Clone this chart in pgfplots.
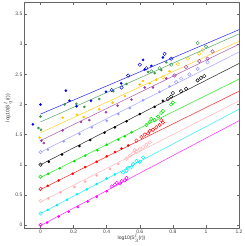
\documentclass[border=0pt]{standalone}
\usepackage{fontspec}
\setmainfont{Liberation Sans}
\usepackage{pgfplots}
\pgfplotsset{compat=1.18}
\definecolor{cBlue}{RGB}{0,0,235}
\definecolor{cDkg}{RGB}{60,150,80}
\definecolor{cGold}{RGB}{255,200,0}
\definecolor{cPur}{RGB}{160,60,160}
\definecolor{cLav}{RGB}{150,150,255}
\definecolor{cBlk}{RGB}{0,0,0}
\definecolor{cGrn}{RGB}{0,230,0}
\definecolor{cRed}{RGB}{255,0,0}
\definecolor{cPink}{RGB}{255,170,170}
\definecolor{cCyan}{RGB}{0,235,245}
\definecolor{cMag}{RGB}{255,0,255}
\pgfplotsset{
  ln/.style={color=#1, line width=0.55bp, opacity=0.8, no marks},
  fm/.style={only marks, mark=*, mark size=1.15bp, mark options={draw=#1, fill=#1, line width=0.3bp}},
  om/.style={only marks, mark=o, mark size=1.75bp, mark options={draw=#1, line width=0.45bp}},
}
\begin{document}
\begin{tikzpicture}
\useasboundingbox (0,0) rectangle (245bp,246bp);
\begin{axis}[
  at={(24bp,18bp)}, anchor=south west,
  width=215bp, height=226bp, scale only axis,
  xmin=-0.1, xmax=1.2, ymin=-0.05, ymax=3.7,
  xtick={0,0.2,0.4,0.6,0.8,1,1.2}, ytick={0,0.5,1,1.5,2,2.5,3,3.5},
  tick align=inside, xtick pos=both, ytick pos=both,
  major tick length=2.5bp,
  axis line style={black!60, line width=0.5bp},
  tick style={black!60, line width=0.4bp},
  ticklabel style={font=\fontsize{5}{6}\selectfont, text=black!75},
  xticklabel style={inner sep=1.5bp},
  yticklabel style={inner sep=1.5bp},
  /pgf/number format/assume math mode=true,
  xlabel={log10(S$_3^l$(r))}, ylabel={log10(S$_q^l$(r))},
  label style={font=\fontsize{5}{6}\selectfont, text=black!80},
  xlabel style={at={(axis description cs:0.5,-0.045)}, anchor=center},
  ylabel style={at={(axis description cs:-0.074,0.53)}, anchor=center},
]
% magenta
\addplot[ln=cMag] coordinates {(0,-0.01)(1.2,1.73)};
\addplot[fm=cMag] coordinates {(0.04,0.04)(0.11,0.14)(0.17,0.22)(0.225,0.30)(0.285,0.39)(0.34,0.47)(0.40,0.56)};
\addplot[om=cMag] coordinates {(0,0.0)(0.43,0.64)(0.45,0.67)(0.46,0.70)(0.48,0.69)(0.49,0.73)(0.51,0.74)(0.52,0.78)};
% cyan
\addplot[ln=cCyan] coordinates {(0,0.19)(1.2,1.92)};
\addplot[fm=cCyan] coordinates {(0.044,0.25)(0.10,0.33)(0.16,0.42)(0.22,0.51)(0.28,0.59)(0.34,0.68)(0.40,0.77)(0.45,0.84)};
\addplot[om=cCyan] coordinates {(0,0.19)(0.50,0.87)(0.52,0.90)(0.53,0.95)(0.55,0.96)(0.56,1.01)(0.58,1.06)(0.60,1.05)(0.62,1.12)};
% pink
\addplot[ln=cPink] coordinates {(0,0.38)(1.2,2.06)};
\addplot[fm=cPink] coordinates {(0.046,0.44)(0.12,0.54)(0.205,0.63)(0.27,0.72)(0.34,0.82)(0.42,0.93)(0.47,1.01)};
\addplot[om=cPink] coordinates {(0,0.40)(0.52,1.10)(0.54,1.15)(0.56,1.19)(0.58,1.22)(0.60,1.26)(0.62,1.29)(0.64,1.33)(0.66,1.37)(0.57,1.24)};
% red
\addplot[ln=cRed] coordinates {(0,0.59)(1.2,2.22)};
\addplot[fm=cRed] coordinates {(0.044,0.65)(0.11,0.74)(0.195,0.85)(0.27,0.96)(0.34,1.05)(0.40,1.14)(0.45,1.21)(0.49,1.27)(0.53,1.32)};
\addplot[om=cRed] coordinates {(0,0.60)(0.58,1.40)(0.61,1.46)(0.63,1.50)(0.65,1.52)(0.66,1.56)(0.68,1.58)(0.70,1.62)(0.72,1.66)(0.73,1.74)(0.74,1.70)};
% green
\addplot[ln=cGrn] coordinates {(0,0.79)(1.2,2.42)};
\addplot[fm=cGrn] coordinates {(0.046,0.85)(0.116,0.94)(0.205,1.06)(0.27,1.15)(0.345,1.24)(0.40,1.33)(0.47,1.42)(0.51,1.47)(0.55,1.54)};
\addplot[om=cGrn] coordinates {(0,0.80)(0.64,1.66)(0.66,1.71)(0.67,1.76)(0.69,1.74)(0.71,1.80)(0.73,1.86)(0.74,1.89)(0.79,2.00)(0.80,2.03)};
% black
\addplot[ln=cBlk] coordinates {(0,1.0)(1.2,2.68)};
\addplot[fm=cBlk] coordinates {(0.05,1.05)(0.13,1.17)(0.235,1.31)(0.30,1.41)(0.387,1.53)(0.45,1.62)(0.52,1.72)(0.60,1.84)(0.69,1.96)(0.74,2.06)};
\addplot[om=cBlk] coordinates {(0,1.0)(0.77,2.09)(0.79,2.13)(0.80,2.19)(0.85,2.22)(0.88,2.26)(0.95,2.40)(0.97,2.44)(0.99,2.47)};
% lavender
\addplot[ln=cLav] coordinates {(0,1.21)(1.2,2.87)};
\addplot[fm=cLav] coordinates {(0.044,1.25)(0.14,1.39)(0.235,1.51)(0.31,1.62)(0.40,1.73)(0.47,1.84)(0.54,1.94)(0.62,2.07)(0.72,2.21)(0.78,2.30)};
\addplot[om=cLav] coordinates {(0,1.21)(0.82,2.37)(0.85,2.43)(0.90,2.50)(0.95,2.59)(1.01,2.70)};
% purple
\addplot[ln=cPur] coordinates {(0,1.40)(1.2,3.0)};
\addplot[fm=cPur] coordinates {(0.005,1.40)(0.02,1.36)(0.134,1.57)(0.245,1.71)(0.295,1.74)(0.396,1.87)(0.466,1.98)(0.55,2.08)(0.63,2.28)(0.68,2.28)(0.76,2.43)};
\addplot[om=cPur] coordinates {(0.81,2.48)(0.88,2.62)(0.96,2.72)(1.01,2.76)(1.04,2.88)};
% gold
\addplot[ln=cGold] coordinates {(0,1.53)(1.2,3.05)};
\addplot[fm=cGold] coordinates {(-0.005,1.45)(0.134,1.78)(0.22,1.83)(0.26,1.79)(0.355,1.92)(0.436,2.03)(0.51,2.14)(0.60,2.33)(0.62,2.39)(0.66,2.35)(0.70,2.41)(0.78,2.55)};
\addplot[om=cGold] coordinates {(0.74,2.45)(0.83,2.67)(0.89,2.76)(0.96,2.84)(0.98,2.90)};
% dark green
\addplot[ln=cDkg] coordinates {(0,1.71)(1.2,3.17)};
\addplot[fm=cDkg] coordinates {(-0.012,1.61)(0.003,1.58)(0,1.80)(0.145,2.0)(0.217,2.01)(0.265,1.96)(0.355,2.09)(0.44,2.22)(0.52,2.34)(0.65,2.54)(0.69,2.52)(0.73,2.57)(0.76,2.70)};
\addplot[om=cDkg] coordinates {(0.67,2.55)(0.72,2.60)(0.79,2.66)(0.95,3.02)(1.0,2.96)};
% blue
\addplot[ln=cBlue] coordinates {(0,1.84)(1.2,3.24)};
\addplot[fm=cBlue] coordinates {(-0.046,1.67)(0,2.0)(0.153,2.23)(0.175,2.06)(0.217,1.97)(0.305,2.06)(0.396,2.21)(0.488,2.35)(0.62,2.74)(0.63,2.58)(0.67,2.64)(0.74,2.78)};
\addplot[om=cBlue] coordinates {(0.43,2.24)(0.49,2.28)(0.53,2.48)(0.60,2.66)(0.64,2.60)(0.75,2.84)(0.79,2.76)};
\end{axis}
\end{tikzpicture}
\end{document}
